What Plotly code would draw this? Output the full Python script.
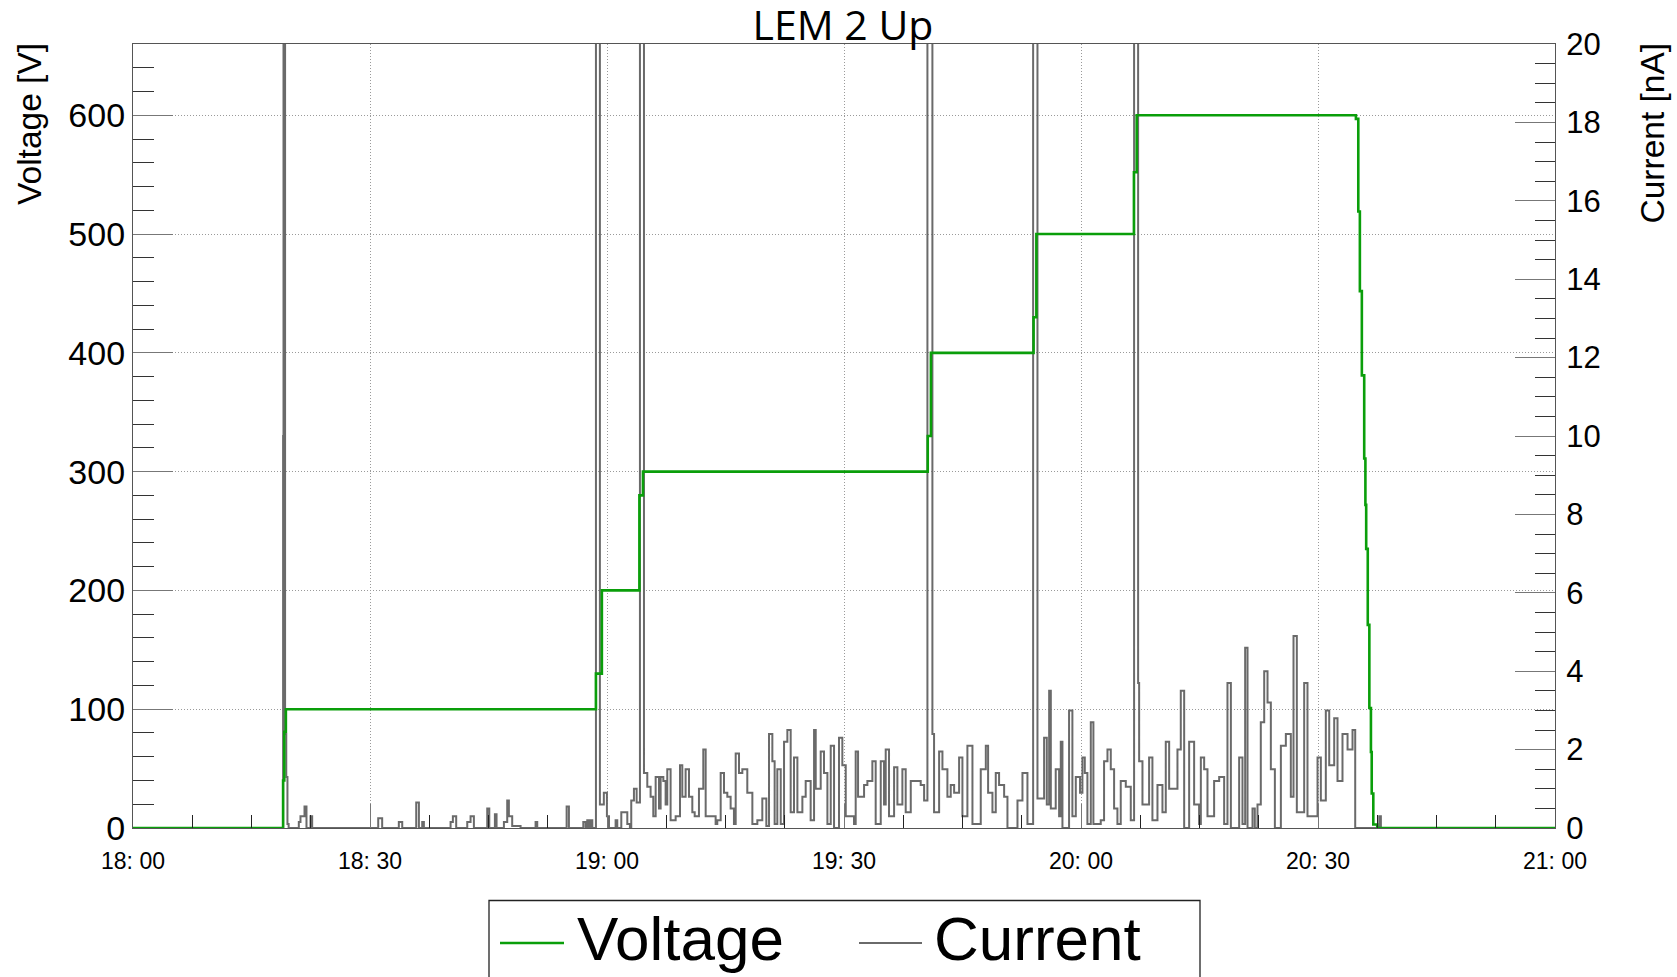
import plotly.graph_objects as go

# ---------------- data (minutes after 18:00) ----------------
voltage_minutes = [0, 19.0, 19.15, 19.35, 58.6, 59.35, 64.1, 64.55, 100.6, 101.0,
                   114.0, 114.35, 126.7, 127.05, 154.8, 155.1, 155.3, 155.55, 155.85,
                   156.0, 156.1, 156.3, 156.5, 156.7, 156.8, 157.0, 157.5, 180]
voltage_values = [0, 40, 81, 100, 130, 200, 280, 300, 330, 400,
                  430, 500, 552, 600, 597, 519, 452, 381, 311,
                  272, 235, 171, 101, 64, 29, 3, 0, 0]

current_minutes = [
    0, 19.0, 19.05, 19.25, 19.4, 19.55, 19.7,
    20.99, 21.2, 21.71, 21.96, 22.47, 22.68,
    31.04, 31.54, 33.65, 34.08, 35.85, 36.19, 36.61, 36.82,
    40.2, 40.49, 40.91, 42.31, 42.73, 43.15, 44.84, 45.1, 45.81, 46.02, 46.95, 47.37,
    47.58, 48.0, 49.06, 50.96, 51.17, 54.89, 55.18, 57.0, 57.29, 57.5, 57.72, 57.93, 58.14,
    58.6, 59.1, 59.6, 59.99, 60.25,
    61.09, 61.3, 61.81, 62.57, 62.9, 63.07, 63.41, 63.75,
    64.17, 64.68,
    65.1, 65.52, 65.86, 66.16, 66.58, 66.79, 67.13, 67.42, 67.63, 68.05, 68.69, 69.24,
    69.53, 69.95, 70.38, 70.8, 71.1, 71.64, 72.19, 72.49, 73.75, 73.96, 74.39, 74.81,
    75.23, 75.65, 76.07, 76.29, 76.71, 77.13, 77.76, 78.4, 79.03, 79.66, 80.17, 80.51,
    80.93, 81.22, 81.56, 81.99, 82.41, 82.83, 83.25, 83.67, 84.1, 84.73, 85.15, 85.78,
    86.21, 86.42, 87.05, 87.47, 87.9, 88.32, 88.74, 89.37, 89.79, 90.22, 91.27, 91.48,
    91.78, 92.54, 92.96, 93.59, 94.01, 94.65, 95.07, 95.28, 95.7, 96.34, 96.76, 97.39,
    97.81, 98.45, 99.71, 100.14,
    100.56, 101.19,
    101.4, 102.04, 102.46, 103.09, 103.51, 103.94, 104.57, 104.99, 105.62, 106.26,
    107.31, 107.95, 108.24, 108.79, 109.21, 109.63, 110.27, 110.69, 111.96, 112.59, 113.22,
    113.94, 114.49,
    115.33, 115.67, 115.97, 116.18, 116.8, 117.23, 117.44, 117.65, 118.49, 118.91,
    119.34, 119.88, 120.18, 120.48, 120.81, 121.24, 121.57, 122.5, 122.92, 123.35,
    123.77, 124.19, 124.61, 125.03, 125.67, 126.3,
    126.72, 127.23,
    127.36, 127.78, 128.62, 129.04, 129.68, 130.31, 130.73, 131.16, 132.21, 132.63,
    133.06, 133.69, 134.32, 134.95, 135.17, 135.59, 136.01, 136.85, 137.49, 138.12,
    138.54, 138.97, 140.02, 140.44, 140.78, 141.08, 141.71, 142.0, 142.34, 142.76,
    143.19, 143.61, 144.03, 144.54, 145.3, 145.93, 146.56, 146.9, 147.32, 148.25,
    148.67, 149.94, 150.36, 150.99, 151.42, 152.05, 152.47, 153.1, 153.74, 154.37,
    154.71, 157.75, 157.96, 180,
]
current_values = [
    0, 10, 60, 2.4, 1.3, 0.1, 0,
    0.15, 0.3, 0.55, 0, 0.3, 0,
    0.25, 0, 0.15, 0, 0.65, 0, 0.15, 0,
    0.15, 0.3, 0, 0.15, 0.3, 0, 0.5, 0, 0.35, 0, 0.15, 0.7,
    0.3, 0.05, 0, 0.15, 0, 0.55, 0, 0.15, 0, 0.2, 0, 0.2, 0,
    60, 0.6, 0.9, 0.3, 0,
    0.2, 0, 0.4, 0.1, 0, 0.7, 1.0, 0.65,
    60, 1.4,
    1.05, 0.8, 0.3, 1.3, 0.5, 1.3, 1.2, 0.6, 1.5, 0.2, 0.3, 1.6,
    0.8, 1.5, 0.8, 0.4, 0.3, 1.0, 2.0, 0.3, 0.1, 0.2, 1.4, 0.9,
    0.8, 0.5, 0.1, 1.9, 1.4, 1.5, 0.9, 0.1, 0.2, 0.75, 0.05, 2.4,
    1.7, 0.1, 1.5, 0.1, 2.2, 2.5, 0.4, 1.8, 0.4, 0.8, 1.2, 0.2,
    2.5, 1.0, 1.95, 1.4, 0.1, 2.1, 0, 2.3, 1.6, 0.3, 0.1, 1.95,
    0.8, 1.1, 1.2, 1.7, 0.1, 1.7, 0.6, 2.0, 0.3, 1.55, 0.6, 1.5,
    0.4, 1.2, 1.1, 0.7,
    60, 2.4,
    0.4, 1.95, 1.5, 0.8, 1.1, 0.9, 1.8, 0.3, 2.1, 0.1,
    1.5, 2.1, 0.9, 0.4, 1.4, 1.1, 0.8, 0, 0.7, 1.4, 0.1,
    60, 0.75,
    2.3, 0.6, 3.5, 0.5, 1.5, 0.3, 2.2, 0, 3.0, 0.3,
    1.3, 0.9, 1.8, 1.4, 0.1, 2.7, 0.1, 0.2, 1.7, 2.0,
    1.5, 0.5, 0.1, 1.2, 1.05, 0.2,
    60, 3.7,
    1.7, 0.6, 1.8, 0.2, 1.1, 0.4, 2.2, 1.0, 2.0, 3.5,
    0, 2.2, 0.6, 0.1, 1.8, 1.5, 0.3, 1.2, 1.3, 0.1,
    3.7, 0, 1.8, 0.1, 4.6, 0, 0.5, 0, 0.6, 2.7,
    4.0, 3.2, 1.5, 0, 2.1, 2.4, 0.8, 4.9, 0.4, 3.7,
    0.3, 1.8, 0.7, 3.0, 1.6, 2.8, 1.2, 2.4, 2.0, 2.5,
    0, 0.3, 0, 0,
]

x_tick_minutes = [0, 30, 60, 90, 120, 150, 180]
x_tick_labels = ["18: 00", "18: 30", "19: 00", "19: 30", "20: 00", "20: 30", "21: 00"]

# ---------------- layout geometry ----------------
W, H = 1677, 977
L, R, T, B = 133, 122, 44, 149
PW, PH = W - L - R, H - T - B


def px_x(x):
    return (x - L) / PW


def px_y(y):
    return (H - B - y) / PH


FONT = "Liberation Sans"
GREEN = "#0a9e0a"
GRAY = "#6a6a6a"
GRID = "#9a9a9a"
FRAME = "#555555"

fig = go.Figure()
fig.add_trace(go.Scatter(x=current_minutes, y=current_values, mode="lines",
                         line=dict(color=GRAY, width=2, shape="hv"),
                         name="Current", yaxis="y", showlegend=False))
fig.add_trace(go.Scatter(x=voltage_minutes, y=voltage_values, mode="lines",
                         line=dict(color=GREEN, width=2.6, shape="hv"),
                         name="Voltage", yaxis="y2", showlegend=False))

fig.update_layout(
    width=W, height=H,
    margin=dict(l=L, r=R, t=T, b=B, autoexpand=False),
    paper_bgcolor="white", plot_bgcolor="white",
    showlegend=False,
    title=dict(text="LEM 2 Up", x=843 / W, y=1 - 25.5 / H, xanchor="center",
               yanchor="middle", font=dict(family="Open Sans", size=41, color="black")),
    xaxis=dict(
        range=[0, 180], tickmode="array", tickvals=x_tick_minutes, ticktext=x_tick_labels,
        ticks="inside", ticklen=24, tickwidth=1, tickcolor="#777",
        minor=dict(tickmode="linear", tick0=0, dtick=7.5, ticks="inside", ticklen=13,
                   tickcolor="#222", showgrid=False),
        showline=True, mirror=True, linecolor=FRAME, linewidth=1.2,
        showgrid=True, gridcolor=GRID, griddash="1px,2px", gridwidth=1,
        zeroline=False, tickfont=dict(family=FONT, size=23, color="black"),
        ticklabelstandoff=12,
    ),
    yaxis=dict(
        side="right", range=[0, 20], tickmode="linear", tick0=0, dtick=2,
        ticks="inside", ticklen=40, tickcolor="#777",
        minor=dict(tickmode="linear", tick0=0, dtick=0.5, ticks="inside", ticklen=20,
                   tickcolor="#333", showgrid=False),
        showline=True, linecolor=FRAME, linewidth=1.2, showgrid=False, zeroline=False,
        tickfont=dict(family=FONT, size=31, color="black"), ticklabelstandoff=4,
    ),
    yaxis2=dict(
        overlaying="y", side="left", range=[0, 660], tickmode="linear", tick0=0, dtick=100,
        ticks="inside", ticklen=40, tickcolor="#777",
        minor=dict(tickmode="linear", tick0=0, dtick=20, ticks="inside", ticklen=21,
                   tickcolor="#333", showgrid=False),
        showline=True, linecolor=FRAME, linewidth=1.2,
        showgrid=True, gridcolor=GRID, griddash="1px,2px", gridwidth=1, zeroline=False,
        tickfont=dict(family=FONT, size=34, color="black"), ticklabelstandoff=0,
    ),
)

# axis titles (ROOT style: aligned with the top of the axis)
fig.add_annotation(text="Voltage [V]", textangle=-90, xref="paper", yref="paper",
                   x=px_x(30), y=px_y(41), xanchor="center", yanchor="top",
                   showarrow=False, font=dict(family=FONT, size=33.5, color="black"))
fig.add_annotation(text="Current [nA]", textangle=-90, xref="paper", yref="paper",
                   x=px_x(1652), y=px_y(41), xanchor="center", yanchor="top",
                   showarrow=False, font=dict(family=FONT, size=33.5, color="black"))

# legend box (drawn manually to match ROOT's TLegend)
fig.add_shape(type="rect", xref="paper", yref="paper",
              x0=px_x(489), x1=px_x(1200), y0=px_y(900.5), y1=px_y(995),
              line=dict(color="#222", width=1.3), fillcolor="white", layer="above")
fig.add_shape(type="line", xref="paper", yref="paper",
              x0=px_x(500), x1=px_x(564), y0=px_y(943), y1=px_y(943),
              line=dict(color=GREEN, width=2.5))
fig.add_shape(type="line", xref="paper", yref="paper",
              x0=px_x(859), x1=px_x(922), y0=px_y(943), y1=px_y(943),
              line=dict(color=GRAY, width=2))
fig.add_annotation(text="Voltage", xref="paper", yref="paper", x=px_x(575), y=px_y(938.5),
                   xanchor="left", yanchor="middle", showarrow=False,
                   font=dict(family=FONT, size=62, color="black"))
fig.add_annotation(text="Current", xref="paper", yref="paper", x=px_x(932), y=px_y(938.5),
                   xanchor="left", yanchor="middle", showarrow=False,
                   font=dict(family=FONT, size=62, color="black"))

fig.write_html("out.html")
